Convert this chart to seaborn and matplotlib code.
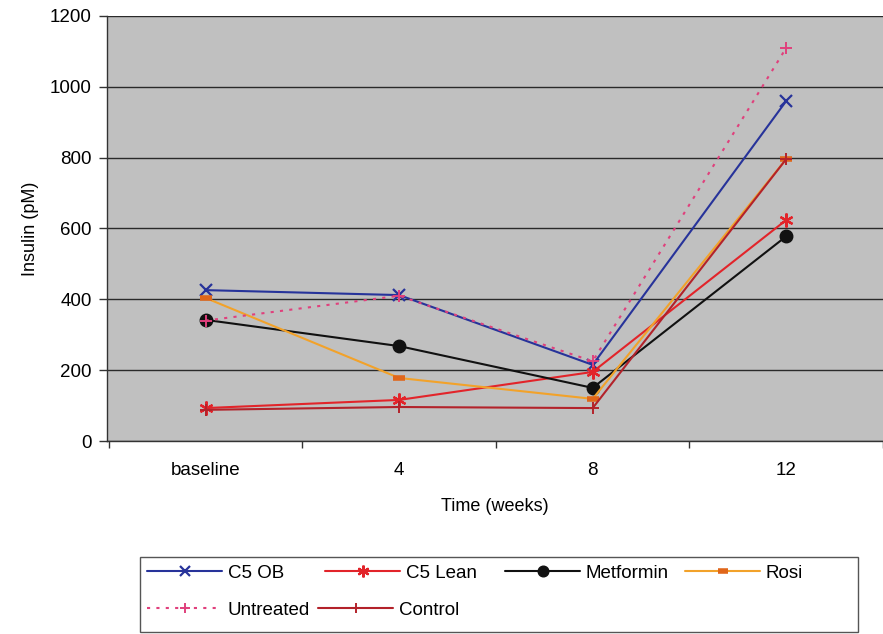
import numpy as np
import matplotlib
matplotlib.use("Agg")
import matplotlib.pyplot as plt
import seaborn as sns
from matplotlib.lines import Line2D
from matplotlib.patches import Rectangle

# Insulin levels over time, per treatment group
time_labels = ["baseline", "4", "8", "12"]
c5_ob = [426, 412, 215, 960]
c5_lean = [93, 116, 195, 624]
metformin = [342, 268, 150, 578]
rosi = [404, 178, 119, 796]
untreated = [340, 410, 225, 1110]
control = [88, 96, 93, 796]

sns.set_theme(style="white")
plt.rcParams["font.family"] = ["Liberation Sans", "DejaVu Sans"]
plt.rcParams["text.color"] = "black"
plt.rcParams["axes.labelcolor"] = "black"
plt.rcParams["xtick.color"] = "black"
plt.rcParams["ytick.color"] = "black"

FS = 13.5

fig = plt.figure(figsize=(8.83, 6.34), dpi=100)
ax = fig.add_axes([0.121, 0.3044, 0.879, 0.6704])
ax.set_facecolor("#c0c0c0")

pos = np.arange(len(time_labels))

series = [
    ("C5 OB", c5_ob, dict(color="#27339a", marker="x", markersize=8, mew=1.6, ls="-")),
    ("C5 Lean", c5_lean, dict(color="#e2242a", marker=(6, 2, 0), markersize=10, mew=1.6, ls="-")),
    ("Metformin", metformin, dict(color="#111111", marker="o", markersize=9, mew=1, ls="-")),
    ("Rosi", rosi, dict(color="#f2a22a", marker="_", markersize=9, mew=4,
                        markeredgecolor="#e0661a", ls="-")),
    ("Untreated", untreated, dict(color="#e0407c", marker="+", markersize=8, mew=1.4, ls=(0, (1.5, 3)))),
    ("Control", control, dict(color="#b3222a", marker="+", markersize=8, mew=1.4, ls="-")),
]

handles = {}
for name, vals, st in series:
    sns.lineplot(x=pos, y=vals, ax=ax, color=st["color"], linewidth=1.5,
                 linestyle=st["ls"], marker=st["marker"], markersize=st["markersize"],
                 markeredgewidth=st["mew"],
                 markeredgecolor=st.get("markeredgecolor", st["color"]),
                 markerfacecolor=st.get("markeredgecolor", st["color"]),
                 legend=False)
    handles[name] = Line2D([0], [0], color=st["color"], linewidth=1.5, linestyle=st["ls"],
                           marker=st["marker"], markersize=st["markersize"] * 0.85,
                           markeredgewidth=st["mew"],
                           markeredgecolor=st.get("markeredgecolor", st["color"]),
                           markerfacecolor=st.get("markeredgecolor", st["color"]))

ax.set_xlim(-0.51, 3.46)
ax.set_ylim(0, 1200)
ax.set_yticks(np.arange(0, 1201, 200))
ax.set_xticks(pos)
ax.set_xticklabels(time_labels)
ax.set_xticks(np.arange(-0.5, len(time_labels), 1.0), minor=True)
ax.yaxis.grid(True, color="#2a2a2a", linewidth=1.0)
ax.xaxis.grid(False)
ax.set_axisbelow(True)

for side in ["top", "right"]:
    ax.spines[side].set_visible(False)
for side in ["left", "bottom"]:
    ax.spines[side].set_color("#333333")
    ax.spines[side].set_linewidth(1.0)

ax.tick_params(axis="y", which="major", direction="out", length=6, width=1,
               color="#333333", labelsize=FS, pad=5, left=True)
ax.tick_params(axis="x", which="major", length=0, labelsize=FS, pad=15)
ax.tick_params(axis="x", which="minor", direction="out", length=5, width=1,
               color="#333333", bottom=True)

ax.set_ylabel("Insulin (pM)", fontsize=13, labelpad=8)
ax.set_xlabel("Time (weeks)", fontsize=13, labelpad=14)

# Legend box below the plot, each entry placed in its own slot
fig.patches.append(Rectangle((140 / 883, 1 - 632 / 634), (858 - 140) / 883, 75 / 634,
                             transform=fig.transFigure, facecolor="white",
                             edgecolor="#555555", linewidth=1.0, zorder=0))
leg_kw = dict(frameon=False, fontsize=FS, handlelength=4.0, handletextpad=0.3,
              borderaxespad=0, borderpad=0, loc="center left")
slots = [("C5 OB", 147, 573), ("C5 Lean", 325, 573), ("Metformin", 505, 573),
         ("Rosi", 685, 573), ("Untreated", 147, 610), ("Control", 318, 610)]
for name, px, py in slots:
    fig.legend([handles[name]], [name], bbox_to_anchor=(px / 883, 1 - py / 634), **leg_kw)

fig.savefig("out.png", dpi=100, facecolor="white")
